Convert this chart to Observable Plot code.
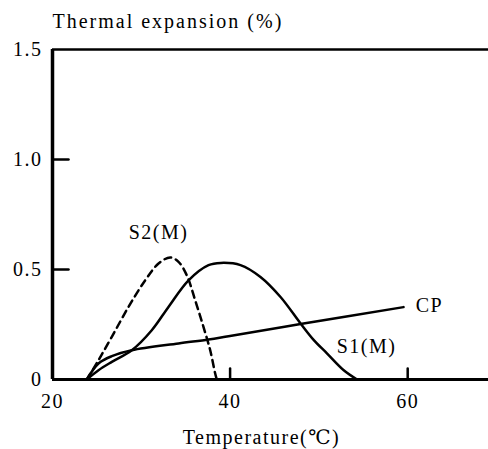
<!DOCTYPE html>
<html><head><meta charset="utf-8">
<script src="https://cdn.jsdelivr.net/npm/d3@7"></script>
<script src="https://cdn.jsdelivr.net/npm/@observablehq/plot@0.6"></script>
<style>
body{margin:0;background:#fff}
#chart svg, #chart svg text{font-family:"Liberation Serif","DejaVu Serif",serif !important;}
</style>
</head><body><div id="chart"></div>
<script>
// Data
const cpTemp = [23.86, 25.18, 26.68, 28.93, 34.19, 37.57, 39.82, 47.93, 59.53];
const cpExp  = [0,     0.073, 0.106, 0.133, 0.164, 0.182, 0.197, 0.252, 0.329];

const s1Temp = [23.86, 25.18, 26.68, 28.93, 31.18, 33.06, 35.32, 37.57, 38.95, 41.17, 43.42, 45.68, 47.93, 49.43, 50.93, 52.8, 54.3];
const s1Exp  = [0,     0.042, 0.08,  0.133, 0.224, 0.33,  0.451, 0.52,  0.53,  0.52,  0.466, 0.375, 0.255, 0.179, 0.118, 0.042, 0];

const s2Temp = [23.86, 25.18, 26.68, 28.56, 30.44, 31.94, 33.25, 34.19, 35.12, 36.07, 37.0, 37.76, 38.32, 38.5];
const s2Exp  = [0,     0.088, 0.194, 0.33,  0.451, 0.527, 0.555, 0.535, 0.474, 0.36,  0.239, 0.133, 0.027, 0];

const seriesNames = ["CP", "S1(M)", "S2(M)"];
const labelTemp = [62.45, 55.36, 31.94];
const labelExp  = [0.338, 0.151, 0.67];

const yTickValues = [0, 0.5, 1.0, 1.5];
const yTickLabels = ["0", "0.5", "1.0", "1.5"];
const yInnerTicks = [0.5, 1.0];
const xTickValues = [20, 40, 60];
const xTickLabels = ["20", "40", "60"];
const xInnerTicks = [40, 60];

const titleText = "Thermal expansion (%)";
const xLabelText = "Temperature(℃)";

const toRows = (t, v) => t.map((d, i) => ({t: d, v: v[i]}));
const cp = toRows(cpTemp, cpExp);
const s1 = toRows(s1Temp, s1Exp);
const s2 = toRows(s2Temp, s2Exp);
const labels = seriesNames.map((n, i) => ({n, t: labelTemp[i], v: labelExp[i]}));

const font = "Liberation Serif";
const tickShape = {draw(context, l) { context.moveTo(0, 0); context.lineTo(0, -l); }};

const chart = Plot.plot({
  width: 488,
  height: 449,
  marginLeft: 52,
  marginRight: 0,
  marginTop: 49,
  marginBottom: 70,
  style: {fontFamily: font, fontSize: "20px", color: "#000", background: "#fff", overflow: "visible"},
  x: {domain: [20, 69.1]},
  y: {domain: [0, 1.5]},
  marks: [
    Plot.axisY(yTickValues, {tickSize: 0, tickPadding: 10, tickFormat: d => yTickLabels[yTickValues.indexOf(d)], label: null, fontSize: 20, fontFamily: font}),
    Plot.axisX(xTickValues, {tickSize: 0, tickPadding: 14, tickFormat: d => xTickLabels[xTickValues.indexOf(d)], label: null, fontSize: 20, fontFamily: font}),
    // inward-pointing tick marks
    Plot.vector(yInnerTicks, {x: () => 20, y: d => d, length: 16, rotate: 90, anchor: "start", shape: tickShape, stroke: "#000", strokeWidth: 2.5}),
    Plot.vector(xInnerTicks, {x: d => d, y: () => 0, length: 11, rotate: 0, anchor: "start", shape: tickShape, stroke: "#000", strokeWidth: 2.5}),
    Plot.ruleY([1.5], {strokeWidth: 2.5}),
    Plot.ruleY([0], {strokeWidth: 3}),
    Plot.ruleX([20], {strokeWidth: 3.5}),
    Plot.line(cp, {x: "t", y: "v", curve: "catmull-rom", strokeWidth: 2.5, stroke: "#000"}),
    Plot.line(s1, {x: "t", y: "v", curve: "catmull-rom", strokeWidth: 2.5, stroke: "#000"}),
    Plot.line(s2, {x: "t", y: "v", curve: "catmull-rom", strokeWidth: 2.5, stroke: "#000", strokeDasharray: "7,5"}),
    Plot.text(labels, {x: "t", y: "v", text: "n", fontSize: 20, fontFamily: font, fill: "#000"}),
    Plot.text([titleText], {frameAnchor: "top-left", textAnchor: "start", lineAnchor: "bottom", dy: -22, fontSize: 20, fontFamily: font, fill: "#000", className: "title"}),
    Plot.text([xLabelText], {frameAnchor: "bottom", lineAnchor: "bottom", dx: -9, dy: 64, fontSize: 20, fontFamily: font, fill: "#000"})
  ]
});
document.getElementById("chart").appendChild(chart);
// letter spacing to imitate the monospaced look of the original lettering
chart.querySelectorAll("text").forEach(t => t.setAttribute("letter-spacing", "1.5"));
chart.querySelectorAll(".title text").forEach(t => t.setAttribute("letter-spacing", "2"));
</script>
</body></html>
